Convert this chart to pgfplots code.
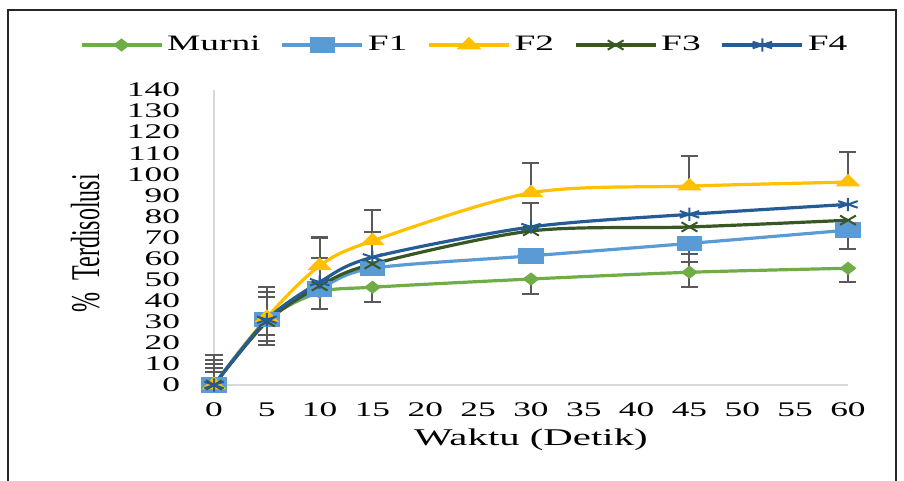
\documentclass[border=0pt]{standalone}
\usepackage{fontspec}
\setmainfont{Liberation Serif}[FakeStretch=1.7]
\newfontfamily\plainserif{Liberation Serif}
\usepackage{graphicx}
\usepackage{pgfplots}
\usepackage{pgfplotstable}
\pgfplotsset{compat=1.18}
\definecolor{cMurni}{HTML}{70AD47}
\definecolor{cF1}{HTML}{5B9BD5}
\definecolor{cF2}{HTML}{FFC000}
\definecolor{cF3}{HTML}{385723}
\definecolor{cF4}{HTML}{265C96}
\definecolor{errgray}{HTML}{595959}
\definecolor{axisgray}{HTML}{D9D9D9}

\pgfplotstableread{
x y
0 0
5 30.7
10 44
15 46.4
30 50.3
45 53.5
60 55.4
}\murni
\pgfplotstableread{
x y
0 0
5 31
10 45.6
15 55.4
30 61.3
45 67.2
60 73.5
}\fone
\pgfplotstableread{
x y
0 0
5 32
10 56.6
15 68.4
30 91.2
45 94.4
60 96.3
}\ftwo
\pgfplotstableread{
x y
0 0
5 30
10 47
15 57.4
30 73.1
45 75
60 78.2
}\fthree
\pgfplotstableread{
x y
0 0
5 31
10 48.8
15 60.6
30 75
45 81
60 85.7
}\ffour
% upper error bars (x, y, error)
\pgfplotstableread{
x y e
0 0 6
0 0 8
0 0 10
0 0 12
0 0 14
5 30.7 11
5 31 13
5 32 14.4
10 56.6 13.4
10 48.8 11.7
15 68.4 14.6
15 60.6 12
30 91.2 14.2
30 75 11.5
45 94.4 14.5
45 53.5 8.5
60 96.3 14.3
}\errplus
% lower error bars (x, y, error)
\pgfplotstableread{
x y e
5 30.7 7
5 31 10
5 32 13
10 44 8
15 46.4 7
30 50.3 7
45 53.5 7
45 67.2 9
60 55.4 6.6
60 73.5 9
}\errminus

\begin{document}
\begin{tikzpicture}[x=1pt,y=1pt]
\begin{axis}[
  at={(107pt,48pt)}, anchor=south west,
  scale only axis, width=317pt, height=147.5pt,
  xmin=0, xmax=60, ymin=0, ymax=140,
  xtick={0,5,...,60}, ytick={0,10,...,140},
  axis x line=bottom, axis y line=left,
  axis line style={draw=axisgray, line width=0.75pt, -},
  major tick length=0pt,
  tick label style={font=\fontsize{10.4}{12}\selectfont, text=black},
  /pgf/number format/assume math mode=true,
  xticklabel style={yshift=-5.5pt},
  yticklabel style={xshift=-13.5pt},
  xlabel={Waktu (Detik)},
  xlabel style={at={(axis description cs:0.5,-0.186)}, anchor=center, font=\fontsize{12}{14}\selectfont},
  ylabel={\plainserif\scalebox{1}[1.7]{\%\ \ Terdisolusi}},
  ylabel style={at={(axis description cs:-0.203,0.48)}, anchor=center, font=\fontsize{12}{14}\selectfont},
  clip=false,
  legend columns=5,
  legend style={at={(axis description cs:0.397,1.1525)}, anchor=center, draw=none, fill=none,
    font=\fontsize{11}{13}\selectfont,
    /tikz/every odd column/.append style={column sep=0pt},
    /tikz/every even column/.append style={column sep=8pt}},
  legend image code/.code={\draw[mark repeat=2,mark phase=2] plot coordinates {(0pt,0pt)(20pt,0pt)(40pt,0pt)};},
  every axis plot/.append style={line width=1.6pt, smooth},
]
% error bars
\addplot[forget plot, draw=none, mark=none, sharp plot,
  error bars/.cd, y dir=plus, y explicit,
  error bar style={draw=errgray, line width=1pt, solid},
  error mark options={draw=errgray, line width=1pt, mark size=4.25pt, rotate=90}]
  table[x=x, y=y, y error=e] {\errplus};
\addplot[forget plot, draw=none, mark=none, sharp plot,
  error bars/.cd, y dir=minus, y explicit,
  error bar style={draw=errgray, line width=1pt, solid},
  error mark options={draw=errgray, line width=1pt, mark size=4.25pt, rotate=90}]
  table[x=x, y=y, y error=e] {\errminus};
% series
\addplot[color=cMurni, mark=diamond*, mark options={xscale=1.7, mark size=3pt, fill=cMurni, line width=0.5pt}] table[x=x,y=y] {\murni};
\addlegendentry{Murni}
\addplot[color=cF1, mark=square*, mark options={xscale=1.7, mark size=3.6pt, fill=cF1, line width=0.5pt}] table[x=x,y=y] {\fone};
\addlegendentry{F1}
\addplot[color=cF2, mark=triangle*, mark options={xscale=1.7, mark size=3.8pt, fill=cF2, line width=0.5pt}] table[x=x,y=y] {\ftwo};
\addlegendentry{F2}
\addplot[color=cF3, mark=x, mark options={xscale=1.7, mark size=3.3pt, line width=1pt}] table[x=x,y=y] {\fthree};
\addlegendentry{F3}
\addplot[color=cF4, mark=asterisk, mark options={xscale=1.7, mark size=3.3pt, line width=1pt}] table[x=x,y=y] {\ffour};
\addlegendentry{F4}
\end{axis}
\draw[line width=1pt, black!85] (4,0) -- (4,235.5) -- (448,235.5) -- (448,0);
\pgfresetboundingbox
\path[use as bounding box] (0,0) rectangle (452,240.5);
\end{tikzpicture}
\end{document}
